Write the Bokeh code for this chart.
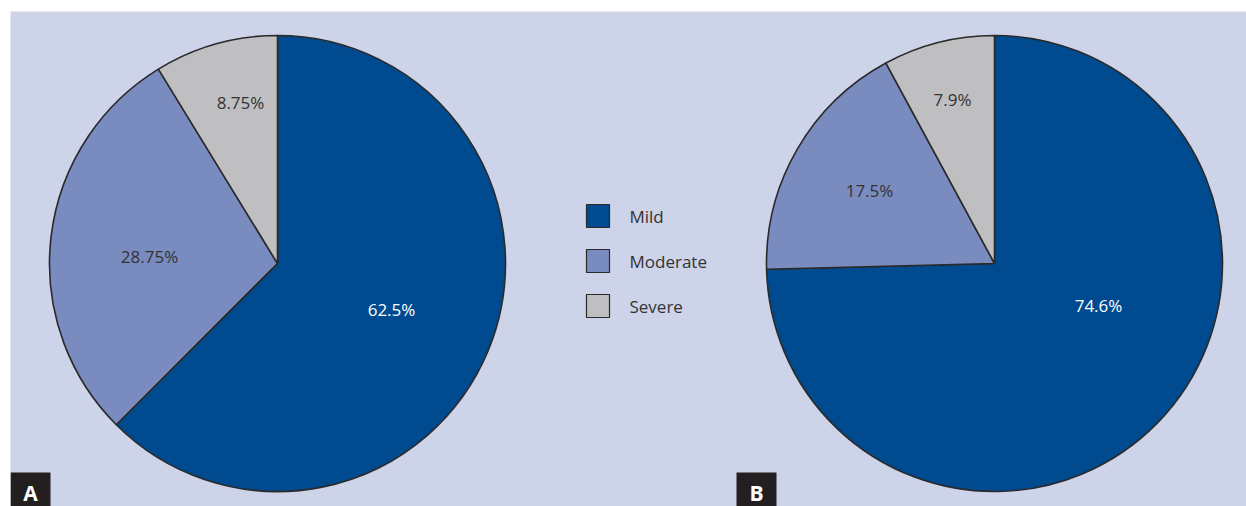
import numpy as np
from bokeh.plotting import figure
from bokeh.models import Range1d, ColumnDataSource
from bokeh.core.properties import value
from bokeh.embed import file_html
from bokeh.resources import INLINE

# ---- data ----
categories = ["Mild", "Moderate", "Severe"]
values_a = [62.5, 28.75, 8.75]
values_b = [74.6, 17.5, 7.9]
panel_labels = ["A", "B"]

# ---- styles / layout ----
colors = ["#004a8f", "#7a8bbf", "#bfbfc1"]
label_colors = ["#ffffff", "#333333", "#333333"]
FONT = "Open Sans"
H = 506  # image height, y axis flipped so data y = H - pixel y

centers = [(277, H - 263), (994, H - 263)]
radius = 228
# label offsets (dx, dy in pixels, y up) relative to pie centre
label_offsets = [
    [(114, -46), (-128, 7), (-37, 161)],
    [(104, -42), (-125, 73), (-42, 164)],
]

p = figure(width=1246, height=506, output_backend="svg", toolbar_location=None,
           x_range=Range1d(10, 1246), y_range=Range1d(0, 495),
           x_axis_location=None, y_axis_location=None,
           min_border_left=10, min_border_top=11, min_border_right=0, min_border_bottom=0,
           background_fill_color="#cdd3e8", border_fill_color="#ffffff",
           outline_line_color=None)
p.grid.visible = False

for (cx, cy), vals, offs in zip(centers, [values_a, values_b], label_offsets):
    fr = np.array(vals) / sum(vals)
    ends = np.cumsum(fr)
    starts = ends - fr
    src = ColumnDataSource(dict(
        x=[cx] * len(vals), y=[cy] * len(vals),
        start=np.pi / 2 - ends * 2 * np.pi,
        end=np.pi / 2 - starts * 2 * np.pi,
        color=colors,
    ))
    p.wedge(x="x", y="y", radius=radius, start_angle="start", end_angle="end",
            direction="anticlock", fill_color="color", line_color="#2a2a2a",
            line_width=1.6, source=src)
    lsrc = ColumnDataSource(dict(
        x=[cx + o[0] for o in offs], y=[cy + o[1] for o in offs],
        text=[f"{v:g}%" for v in vals], color=label_colors,
    ))
    p.text(x="x", y="y", text="text", text_color="color", source=lsrc,
           text_font=value(FONT), text_font_size="17px",
           text_align="center", text_baseline="middle")

# legend
leg_y = [H - 215.5, H - 260.5, H - 305.5]
p.rect(x=[597.5] * 3, y=leg_y, width=23, height=23, fill_color=colors,
       line_color="#2a2a2a", line_width=1.2)
p.text(x=[629] * 3, y=leg_y, text=categories, text_color="#333333",
       text_font=value(FONT), text_font_size="17px",
       text_align="left", text_baseline="middle")

# panel letters
box_left = [10, 736]
box_w = 40
p.quad(left=box_left, right=[b + box_w for b in box_left], bottom=[0, 0],
       top=[H - 472, H - 472], fill_color="#231f20", line_color=None)
p.text(x=[b + box_w / 2 for b in box_left], y=[H - 492] * 2, text=panel_labels,
       text_color="#ffffff", text_font=value(FONT), text_font_size="21px",
       text_font_style="bold", text_align="center", text_baseline="middle")

open("out.html", "w").write(file_html(p, INLINE))
